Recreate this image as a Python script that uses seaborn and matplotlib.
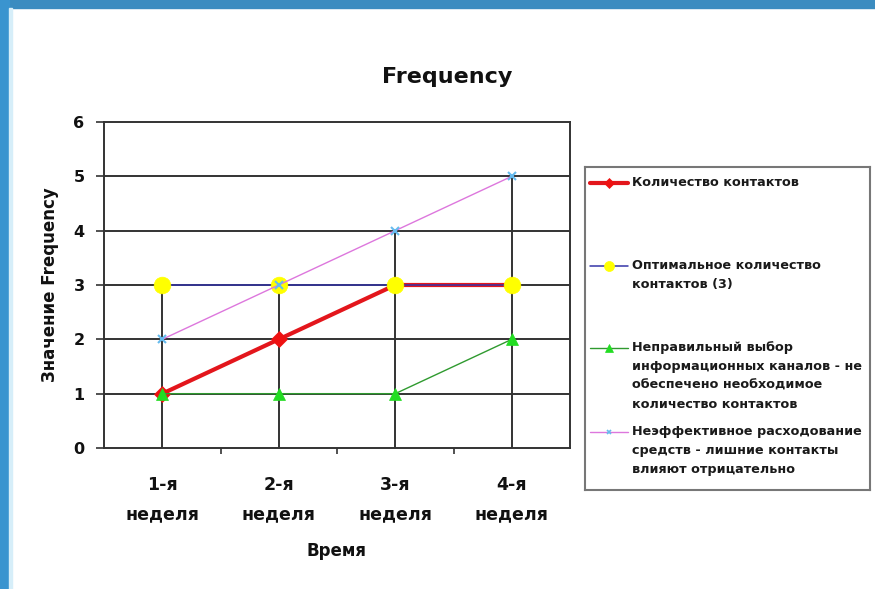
import numpy as np
import pandas as pd
import matplotlib
matplotlib.use('Agg')
import matplotlib.pyplot as plt
from matplotlib.patches import Rectangle
import seaborn as sns

# Data
weeks = ['1-я\nнеделя', '2-я\nнеделя', '3-я\nнеделя', '4-я\nнеделя']
contacts = [1, 2, 3, 3]
optimal = [3, 3, 3, 3]
wrong_channels = [1, 1, 1, 2]
excess_spending = [2, 3, 4, 5]

labels = [
    'Количество контактов',
    'Оптимальное количество\nконтактов (3)',
    'Неправильный выбор\nинформационных каналов - не\nобеспечено необходимое\nколичество контактов',
    'Неэффективное расходование\nсредств - лишние контакты\nвлияют отрицательно',
]

# line color, marker, marker color, marker size, line width
styles = [
    ('#e3161c', 'D', '#ee1111', 8, 3.0),
    ('#3535a8', 'o', '#ffff00', 12, 1.1),
    ('#2f9a2f', '^', '#22dd22', 9, 1.0),
    ('#dd77dd', 'x', '#66bbee', 6, 1.0),
]
series = [contacts, optimal, wrong_channels, excess_spending]

sns.set_theme(style='white')
plt.rcParams['font.family'] = ['DejaVu Sans']
plt.rcParams['text.color'] = '#111111'
plt.rcParams['xtick.color'] = '#111111'
plt.rcParams['ytick.color'] = '#111111'
plt.rcParams['axes.labelcolor'] = '#111111'

fig = plt.figure(figsize=(8.75, 5.89), dpi=100)
fig.patch.set_facecolor('white')

# blue slide frame
fig.patches.append(Rectangle((0, 1 - 8 / 589), 1, 8 / 589, transform=fig.transFigure,
                             color='#3b8cc0', zorder=0))
fig.patches.append(Rectangle((0, 0), 9 / 875, 1, transform=fig.transFigure,
                             color='#3a94cf', zorder=0))
fig.patches.append(Rectangle((9 / 875, 0), 3 / 875, 1 - 8 / 589, transform=fig.transFigure,
                             color='#d6eef9', zorder=0))

ax = fig.add_axes([104 / 875, 141 / 589, 466 / 875, 326 / 589])
x_pos = np.arange(len(weeks))

# horizontal grid and drop lines
for yv in range(1, 6):
    ax.axhline(yv, color='#333333', lw=1.4, zorder=1)
drop_top = np.max(np.array(series), axis=0)
ax.vlines(x_pos, 0, drop_top, color='#333333', lw=1.4, zorder=1)

for vals, (lc, mk, mc, ms, lw) in zip(series, styles):
    sns.lineplot(x=x_pos, y=vals, ax=ax, color=lc, linewidth=lw, marker=mk,
                 markersize=ms, markerfacecolor=mc, markeredgecolor=mc,
                 markeredgewidth=1.5 if mk == 'x' else 0.5, zorder=3)

ax.set_xlim(-0.5, len(weeks) - 0.5)
ax.set_ylim(0, 6)
ax.set_yticks(range(0, 7))
ax.set_xticks(x_pos)
ax.set_xticklabels(weeks, fontsize=12.5, fontweight='bold', linespacing=1.8)
ax.set_xticks(np.arange(0.5, len(weeks) - 0.5, 1), minor=True)
ax.tick_params(axis='x', which='major', length=0, pad=20)
ax.tick_params(axis='x', which='minor', bottom=True, length=4, width=1.2, color='#333333')
ax.tick_params(axis='y', left=True, length=6, width=1.2, color='#333333', pad=8,
               labelsize=11.5)
for t in ax.get_yticklabels():
    t.set_fontweight('bold')
for s in ax.spines.values():
    s.set_color('#333333')
    s.set_linewidth(1.4)

ax.set_xlabel('Время', fontsize=12, fontweight='bold')
ax.xaxis.set_label_coords(0.5, -0.316)
ax.xaxis.label.set_va('center')
ax.set_ylabel('Значение Frequency', fontsize=12, fontweight='bold')
ax.yaxis.set_label_coords(-0.116, 0.5)
ax.yaxis.label.set_va('center')

fig.text(447 / 875, 1 - 77 / 589, 'Frequency', ha='center', va='center',
         fontsize=16, fontweight='bold', color='#111111')

# legend box drawn by hand so handles line up with the first text line
lax = fig.add_axes([585 / 875, 99 / 589, 285 / 875, 323 / 589])
lax.set_xlim(0, 285)
lax.set_ylim(323, 0)
lax.set_xticks([])
lax.set_yticks([])
for s in lax.spines.values():
    s.set_color('#777777')
    s.set_linewidth(1.5)

entry_y = [16, 99, 181, 265]
for yy, lab, (lc, mk, mc, ms, lw) in zip(entry_y, labels, styles):
    lax.plot([5, 43], [yy, yy], color=lc, lw=lw)
    lax.plot([24], [yy], marker=mk, color=mc, markersize=ms * 0.6,
             markeredgewidth=1.2 if mk == 'x' else 0.5)
    lax.text(47, yy - 7, lab, ha='left', va='top', fontsize=9.2,
             fontweight='bold', color='#1a1a1a', linespacing=1.6)

fig.savefig('out.png', dpi=100)
